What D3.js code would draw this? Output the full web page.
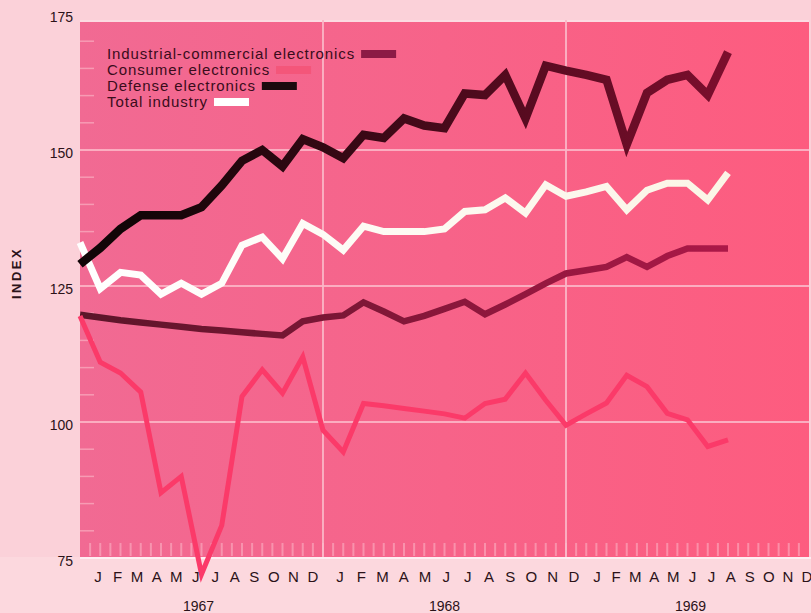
<!DOCTYPE html>
<html>
<head>
<meta charset="utf-8">
<script src="https://cdn.jsdelivr.net/npm/d3@7"></script>
<style>
  html, body { margin: 0; padding: 0; background: #fbd3db; }
  svg { display: block; font-family: "Liberation Sans", Arial, Helvetica, sans-serif; }
</style>
</head>
<body>
<svg id="chart" width="811" height="613"></svg>
<script>
// ---------- data (monthly index, Jan 1967 = month 0) ----------
const monthLetters = ["J", "F", "M", "A", "M", "J", "J", "A", "S", "O", "N", "D"];
const years = ["1967", "1968", "1969"];
const yTicks = [75, 100, 125, 150, 175];
const gridValues = [100, 125, 150];

const industrial = [119.7, 119.2, 118.7, 118.3, 117.9, 117.5, 117.1, 116.8, 116.5, 116.2, 115.9,
  118.5, 119.2, 119.6, 122, 120.3, 118.5, 119.5, 120.8, 122.1, 119.8, 121.6, 123.5, 125.5,
  127.3, 127.9, 128.5, 130.3, 128.5, 130.5, 131.9, 131.9, 131.9];
const consumer = [119.5, 111, 109, 105.5, 87, 90, 72, 81, 104.7, 109.6, 105.3, 112, 98.5,
  94.5, 103.4, 103, 102.5, 102, 101.5, 100.7, 103.4, 104.2, 109, 104, 99.4, 101.5, 103.5,
  108.6, 106.5, 101.6, 100.4, 95.5, 96.7];
const defense = [129, 132, 135.5, 138, 138, 138, 139.5, 143.5, 148, 150, 147, 152, 150.5,
  148.5, 152.8, 152.2, 155.8, 154.5, 154, 160.4, 160.1, 163.8, 155.8, 165.5, 164.6, 163.8,
  162.9, 151, 160.5, 162.9, 163.8, 160.1, 168];
const total = [133, 124.5, 127.5, 127, 123.5, 125.5, 123.5, 125.5, 132.5, 134, 130, 136.5,
  134.5, 131.6, 136, 135, 135, 135, 135.5, 138.7, 139, 141.2, 138.4, 143.6, 141.5, 142.3,
  143.3, 139, 142.6, 143.9, 143.9, 140.8, 145.8];

const legendNames = ["Industrial-commercial electronics", "Consumer electronics", "Defense electronics", "Total industry"];

// ---------- layout ----------
const svg = d3.select("#chart");
const plotLeft = 80, plotRight = 809, plotTop = 20, plotBottom = 557;

const x = d3.scaleLinear().domain([0, 36]).range([plotLeft, plotRight]);
const y = d3.scaleLinear().domain([75, 175]).range([558, 14]);

const defs = svg.append("defs");
function hGradient(id, c0, c1, x0, x1) {
  const g = defs.append("linearGradient").attr("id", id)
    .attr("gradientUnits", "userSpaceOnUse")
    .attr("x1", x0).attr("x2", x1).attr("y1", 0).attr("y2", 0);
  g.append("stop").attr("offset", 0).attr("stop-color", c0);
  g.append("stop").attr("offset", 1).attr("stop-color", c1);
}
hGradient("gPlot", "#f16a93", "#fd5c7f", plotLeft, plotRight);
hGradient("gDef", "#120507", "#7c0e2d", x(3), x(32));
hGradient("gInd", "#5c1529", "#ac1848", x(0), x(32));
hGradient("gTot", "#ffffff", "#fbf5e6", x(0), x(32));

// page background strips
svg.append("rect").attr("width", 811).attr("height", 613).attr("fill", "#fbd1d9");
svg.append("rect").attr("x", 0).attr("y", plotBottom).attr("width", 811).attr("height", 613 - plotBottom)
  .attr("fill", "#fcd8de");

// plot area
svg.append("rect")
  .attr("x", plotLeft).attr("y", plotTop)
  .attr("width", plotRight - plotLeft).attr("height", plotBottom - plotTop)
  .attr("fill", "url(#gPlot)");

// top / bottom light border
svg.append("line").attr("x1", plotLeft).attr("x2", plotRight).attr("y1", plotTop + 1).attr("y2", plotTop + 1)
  .attr("stroke", "#fcdbe2").attr("stroke-width", 2);
svg.append("line").attr("x1", plotLeft).attr("x2", 811).attr("y1", plotBottom + 1).attr("y2", plotBottom + 1)
  .attr("stroke", "#ffeef2").attr("stroke-width", 2);

// grid lines
svg.append("g").selectAll("line").data(gridValues).join("line")
  .attr("x1", plotLeft).attr("x2", plotRight)
  .attr("y1", d => y(d)).attr("y2", d => y(d))
  .attr("stroke", "#fbadc0").attr("stroke-width", 1.8);
svg.append("g").selectAll("line").data([12, 24]).join("line")
  .attr("x1", d => x(d)).attr("x2", d => x(d))
  .attr("y1", plotTop).attr("y2", plotBottom)
  .attr("stroke", "#fbb6c7").attr("stroke-width", 1.8);

// minor ticks, left edge
svg.append("g").selectAll("line").data(d3.range(80, 175, 5).filter(v => !gridValues.includes(v))).join("line")
  .attr("x1", plotLeft).attr("x2", plotLeft + 14)
  .attr("y1", d => y(d)).attr("y2", d => y(d))
  .attr("stroke", "#fbbccb").attr("stroke-width", 1.5).attr("opacity", 0.6);

// minor ticks, bottom edge (half months)
svg.append("g").selectAll("line").data(d3.range(0.5, 36, 0.5)).join("line")
  .attr("x1", d => x(d)).attr("x2", d => x(d))
  .attr("y1", plotBottom - 14).attr("y2", plotBottom - 1)
  .attr("stroke", "#fcc0ce").attr("stroke-width", 2).attr("opacity", 0.5);

// ---------- series ----------
const series = [
  { values: industrial, stroke: "url(#gInd)", width: 6.5, swatch: "#8c1a45" },
  { values: consumer, stroke: "#fb3a69", width: 5, swatch: "#f4567a" },
  { values: total, stroke: "url(#gTot)", width: 7, swatch: "#ffffff" },
  { values: defense, stroke: "url(#gDef)", width: 8.5, swatch: "#1c0a0e" }
];

const line = d3.line().x((d, i) => x(i)).y(d => y(d));

svg.append("g").selectAll("path").data(series).join("path")
  .attr("d", d => line(d.values))
  .attr("fill", "none")
  .attr("stroke", d => d.stroke)
  .attr("stroke-width", d => d.width)
  .attr("stroke-linejoin", "miter")
  .attr("stroke-miterlimit", 6);

// ---------- axes text ----------
const textColor = "#2b1218";

svg.append("g").selectAll("text").data(yTicks).join("text")
  .attr("x", 73).attr("y", d => y(d) + 8)
  .attr("text-anchor", "end")
  .attr("font-size", 14).attr("fill", textColor)
  .text(d => d);

svg.append("text")
  .attr("transform", "translate(21, 273) rotate(-90)")
  .attr("text-anchor", "middle")
  .attr("font-size", 13).attr("font-weight", "bold")
  .attr("letter-spacing", 2.5).attr("fill", textColor)
  .text("INDEX");

// month letters: one point scale per year
const labelSpans = [[98, 313], [340, 574], [597, 807]];
years.forEach((yr, yi) => {
  const mx = d3.scalePoint().domain(d3.range(12)).range(labelSpans[yi]);
  svg.append("g").selectAll("text").data(monthLetters).join("text")
    .attr("x", (d, i) => mx(i)).attr("y", 582)
    .attr("text-anchor", "middle")
    .attr("font-size", 15).attr("fill", textColor)
    .text(d => d);
});

svg.append("g").selectAll("text").data(years).join("text")
  .attr("x", (d, i) => x(6 + 12 * i) + (i - 1) * 3).attr("y", 611)
  .attr("text-anchor", "middle")
  .attr("font-size", 14).attr("fill", textColor)
  .text(d => d);

// ---------- legend ----------
const legendOrder = [0, 1, 3, 2]; // industrial, consumer, defense, total
const legend = svg.append("g");
legendOrder.forEach((si, row) => {
  const ty = 59 + row * 16;
  const t = legend.append("text")
    .attr("x", 107).attr("y", ty)
    .attr("font-size", 15).attr("letter-spacing", 0.9)
    .attr("fill", "#3a0c1b")
    .text(legendNames[row]);
  const w = t.node().getComputedTextLength();
  legend.append("rect")
    .attr("x", 107 + w + 6).attr("y", ty - 9)
    .attr("width", 35).attr("height", 8)
    .attr("fill", series[si].swatch);
});
</script>
</body>
</html>
